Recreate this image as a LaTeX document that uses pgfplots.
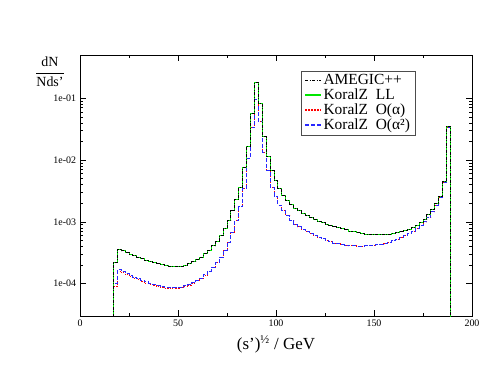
\documentclass[border=0pt]{standalone}
\usepackage{pgfplots}
\pgfplotsset{compat=1.18}
\usepackage{pgfplotstable}
\usepackage{fontspec}
\setmainfont{Liberation Serif}

% bin left edge, upper curve (AMEGIC++ / LL), O(alpha), O(alpha^2)
\pgfplotstableread{
x    up       oa       oaa
17   1e-6     1e-6     1e-6
17   2.2e-4   9.0e-5   1.0e-4
19   3.6e-4   1.6e-4   1.7e-4
21   3.4e-4   1.5e-4   1.57e-4
23   3.2e-4   1.4e-4   1.46e-4
25   3.0e-4   1.3e-4   1.36e-4
27   2.85e-4  1.22e-4  1.28e-4
29   2.7e-4   1.15e-4  1.2e-4
31   2.55e-4  1.08e-4  1.13e-4
33   2.4e-4   1.02e-4  1.07e-4
35   2.3e-4   9.8e-5   1.02e-4
37   2.2e-4   9.3e-5   9.7e-5
39   2.1e-4   9.0e-5   9.3e-5
41   2.02e-4  8.7e-5   9.0e-5
43   1.96e-4  8.5e-5   8.8e-5
45   1.9e-4   8.4e-5   8.7e-5
47   1.88e-4  8.4e-5   8.6e-5
49   1.88e-4  8.4e-5   8.6e-5
51   1.92e-4  8.6e-5   8.8e-5
53   2.0e-4   9.0e-5   9.2e-5
55   2.1e-4   9.5e-5   9.6e-5
57   2.25e-4  1.02e-4  1.03e-4
59   2.45e-4  1.11e-4  1.12e-4
61   2.7e-4   1.22e-4  1.23e-4
63   3.05e-4  1.38e-4  1.39e-4
65   3.5e-4   1.6e-4   1.6e-4
67   4.1e-4   1.86e-4  1.86e-4
69   4.9e-4   2.2e-4   2.2e-4
71   6.0e-4   2.7e-4   2.7e-4
73   7.8e-4   3.5e-4   3.5e-4
75   1.05e-3  4.7e-4   4.7e-4
77   1.5e-3   6.8e-4   6.8e-4
79   2.3e-3   1.05e-3  1.05e-3
81   3.6e-3   1.75e-3  1.75e-3
83   7.5e-3   3.5e-3   3.5e-3
85   1.66e-2  1.07e-2  1.07e-2
87   5.7e-2   3.3e-2   3.3e-2
89   0.18     9.5e-2   9.5e-2
91   8.3e-2   4.2e-2   4.2e-2
93   2.4e-2   1.3e-2   1.3e-2
95   1.15e-2  6.8e-3   6.8e-3
97   6.8e-3   3.6e-3   3.6e-3
99   4.7e-3   2.6e-3   2.6e-3
101  3.5e-3   1.85e-3  1.85e-3
103  2.7e-3   1.5e-3   1.5e-3
105  2.2e-3   1.25e-3  1.25e-3
107  1.9e-3   1.05e-3  1.05e-3
109  1.65e-3  9.2e-4   9.2e-4
111  1.5e-3   8.3e-4   8.3e-4
113  1.38e-3  7.6e-4   7.6e-4
115  1.27e-3  7.0e-4   7.0e-4
117  1.17e-3  6.5e-4   6.5e-4
119  1.09e-3  6.05e-4  6.05e-4
121  1.02e-3  5.65e-4  5.65e-4
123  9.6e-4   5.3e-4   5.3e-4
125  9.1e-4   5.0e-4   5.0e-4
127  8.7e-4   4.75e-4  4.75e-4
129  8.3e-4   4.55e-4  4.55e-4
131  8.0e-4   4.4e-4   4.4e-4
133  7.7e-4   4.28e-4  4.28e-4
135  7.4e-4   4.19e-4  4.19e-4
137  7.1e-4   4.12e-4  4.12e-4
139  6.9e-4   4.08e-4  4.08e-4
141  6.7e-4   4.05e-4  4.05e-4
143  6.5e-4   4.05e-4  4.05e-4
145  6.35e-4  4.07e-4  4.07e-4
147  6.25e-4  4.1e-4   4.1e-4
149  6.2e-4   4.15e-4  4.15e-4
151  6.15e-4  4.25e-4  4.25e-4
153  6.15e-4  4.38e-4  4.38e-4
155  6.2e-4   4.52e-4  4.52e-4
157  6.3e-4   4.7e-4   4.7e-4
159  6.45e-4  4.92e-4  4.92e-4
161  6.65e-4  5.2e-4   5.2e-4
163  6.9e-4   5.55e-4  5.55e-4
165  7.2e-4   5.95e-4  5.95e-4
167  7.6e-4   6.45e-4  6.45e-4
169  8.1e-4   7.05e-4  7.05e-4
171  8.8e-4   7.8e-4   7.8e-4
173  9.8e-4   8.8e-4   8.8e-4
175  1.1e-3   1.0e-3   1.0e-3
177  1.3e-3   1.18e-3  1.18e-3
179  1.6e-3   1.45e-3  1.45e-3
181  2.0e-3   1.85e-3  1.85e-3
183  2.6e-3   2.5e-3   2.5e-3
185  4.5e-3   4.3e-3   4.3e-3
187  3.5e-2   3.4e-2   3.4e-2
189  3.5e-2   3.4e-2   3.4e-2
189  1e-6     1e-6     1e-6
}\spectrum

\definecolor{grgreen}{RGB}{0,230,0}
\definecolor{grred}{RGB}{255,0,0}
\definecolor{grblue}{RGB}{40,40,255}

\begin{document}
\begin{tikzpicture}
\begin{axis}[name=ax,
  scale only axis, width=392bp, height=261bp,
  ymode=log, xmin=0, xmax=200, ymin=3e-5, ymax=0.5,
  /pgf/number format/assume math mode=true,
  xtick={0,50,...,200}, minor xtick={25,75,125,175},
  ytick={1e-4,1e-3,1e-2,1e-1},
  yticklabels={1e-04,1e-03,1e-02,1e-01},
  tick align=inside, major tick length=6bp, minor tick length=3bp,
  tick style={black, line width=0.6pt},
  ticklabel style={font=\fontsize{10}{12}\selectfont},
  axis line style={line width=0.8pt},
  xlabel={(s’)\textsuperscript{½} / GeV},
  xlabel style={font=\fontsize{17}{20}\selectfont, yshift=-2bp},
  legend style={at={(0.564,0.939)}, anchor=north west,
    draw=black!70, line width=0.5pt,
    font=\fontsize{15.5}{16}\selectfont, row sep=-1.2pt,
    inner xsep=3pt, inner ysep=1.5pt, cells={anchor=west}},
  legend image code/.code={\draw[line width=1.6pt, #1] (0cm,0cm) -- (0.55cm,0cm);},
  legend cell align=left,
  const plot, line width=1pt,
]
\addlegendimage{draw=black, dash pattern=on 3pt off 1.5pt on 1pt off 1.5pt}
\addlegendentry{AMEGIC++}
\addlegendimage{draw=grgreen, solid}
\addlegendentry{KoralZ\ \ LL}
\addlegendimage{draw=grred, dash pattern=on 1.5pt off 1.5pt}
\addlegendentry{KoralZ\ \ O(α)}
\addlegendimage{draw=grblue, dash pattern=on 4pt off 2pt}
\addlegendentry{KoralZ\ \ O(α²)}

\addplot[grred, dash pattern=on 1.2pt off 1.5pt, forget plot] table[x=x, y=oa] {\spectrum};
\addplot[grblue, dash pattern=on 4pt off 2pt, forget plot] table[x=x, y=oaa] {\spectrum};
\addplot[grgreen, solid, forget plot] table[x=x, y=up] {\spectrum};
\addplot[black, dash pattern=on 3pt off 1.5pt on 1pt off 1.5pt, forget plot] table[x=x, y=up] {\spectrum};
\end{axis}
\node at ([xshift=-30bp, yshift=-17bp]ax.north west)
  {\fontsize{14}{15}\selectfont$\displaystyle\frac{\textrm{dN}}{\textrm{Nds’}}$};
\path ([xshift=-80bp, yshift=-66bp]ax.south west) rectangle ([xshift=22bp, yshift=55bp]ax.north east);
\end{tikzpicture}
\end{document}
